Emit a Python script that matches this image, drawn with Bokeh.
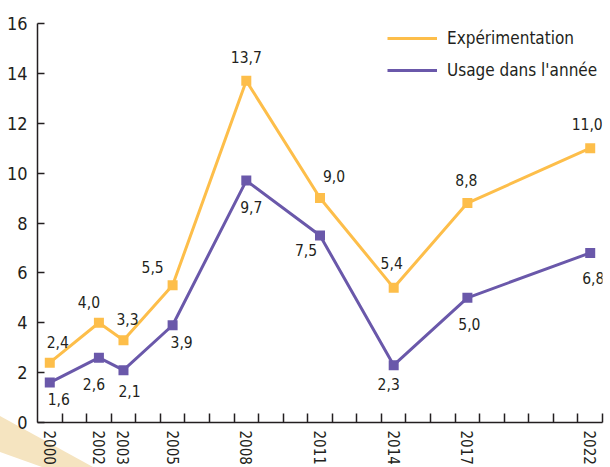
from bokeh.plotting import figure
from bokeh.models import ColumnDataSource, FixedTicker, Range1d, Legend, LegendItem
from bokeh.core.properties import value
from bokeh.embed import file_html
from bokeh.resources import INLINE

# ---- data ----
years = [2000, 2002, 2003, 2005, 2008, 2011, 2014, 2017, 2022]
experimentation = [2.4, 4.0, 3.3, 5.5, 13.7, 9.0, 5.4, 8.8, 11.0]
usage = [1.6, 2.6, 2.1, 3.9, 9.7, 7.5, 2.3, 5.0, 6.8]
y_ticks = [0, 2, 4, 6, 8, 10, 12, 14, 16]
series_names = ["Expérimentation", "Usage dans l'année"]

# label offsets (px) – styling only
exp_dx = [8, -10, 4, -20, 0, 14, -2, -1, -3]
exp_dy = [-21, -21, -21, -18, -24, -22, -25, -23, -24]
use_dx = [9, -5, 6, 9, 5, -14, -5, 2, 3]
use_dy = [16, 26, 21, 17, 26, 15, 19, 26, 25]

FONT = "DejaVu Sans Condensed, Roboto"
ORANGE = "#FDBE4A"
PURPLE = "#6A58AA"
INK = "#231F20"

def fmt(v):
    return f"{v:.1f}".replace(".", ",")

band_svg = ("url(\"data:image/svg+xml;utf8,<svg xmlns='http://www.w3.org/2000/svg' width='610' height='467'>"
            "<polygon points='0,416 93,467 42,467 0,452' fill='%23F5E4C0'/></svg>\")")

p = figure(width=610, height=467, output_backend="svg", toolbar_location=None,
           x_range=Range1d(1999.5, 2022.5), y_range=Range1d(0, 16),
           min_border_left=37, min_border_right=8, min_border_top=23, min_border_bottom=44)
p.outline_line_color = None
p.xgrid.grid_line_color = None
p.ygrid.grid_line_color = None
p.background_fill_color = None
p.border_fill_color = None
p.styles = {"background-color": "white", "background-image": band_svg, "background-repeat": "no-repeat"}

src_e = ColumnDataSource(dict(x=years, y=experimentation, t=[fmt(v) for v in experimentation], dx=exp_dx, dy=exp_dy))
src_u = ColumnDataSource(dict(x=years, y=usage, t=[fmt(v) for v in usage], dx=use_dx, dy=use_dy))

lu = p.line("x", "y", source=src_u, line_color=PURPLE, line_width=3)
le = p.line("x", "y", source=src_e, line_color=ORANGE, line_width=3)
p.scatter("x", "y", source=src_u, marker="square", size=10, fill_color=PURPLE, line_color=None)
p.scatter("x", "y", source=src_e, marker="square", size=10, fill_color=ORANGE, line_color=None)

for src in (src_e, src_u):
    p.text("x", "y", text="t", source=src, x_offset="dx", y_offset="dy",
           text_align="center", text_baseline="middle", text_font=value(FONT),
           text_font_size="15.5px", text_color=INK)

# axes
xa = p.xaxis[0]
xa.ticker = FixedTicker(ticks=years, minor_ticks=[y + 0.5 for y in range(years[0], years[-1] + 1)])
xa.minor_tick_in = 9
xa.minor_tick_out = 0
xa.minor_tick_line_color = INK
xa.minor_tick_line_width = 1.5
xa.major_label_orientation = "vertical"
xa.major_label_standoff = 2
ya = p.yaxis[0]
ya.ticker = FixedTicker(ticks=y_ticks)
ya.major_tick_in = 7
ya.major_tick_out = 0
ya.minor_tick_line_color = None
ya.major_label_standoff = 10
for ax in (xa, ya):
    ax.axis_line_color = INK
    ax.axis_line_width = 1.5
    ax.major_tick_line_width = 1.5
    ax.major_label_text_font = FONT
    ax.major_label_text_color = INK
xa.major_tick_line_color = None
ya.major_tick_line_color = INK
xa.major_label_text_font_size = "15px"
ya.major_label_text_font_size = "18px"

legend = Legend(items=[LegendItem(label=series_names[0], renderers=[le]),
                       LegendItem(label=series_names[1], renderers=[lu])],
                location=(350, 340), glyph_width=50, glyph_height=24, label_height=24,
                spacing=8, label_standoff=10, padding=0, margin=0,
                border_line_color=None, background_fill_alpha=0,
                label_text_font=FONT, label_text_font_size="17px", label_text_color=INK)
p.add_layout(legend)

open("out.html", "w").write(file_html(p, INLINE))
